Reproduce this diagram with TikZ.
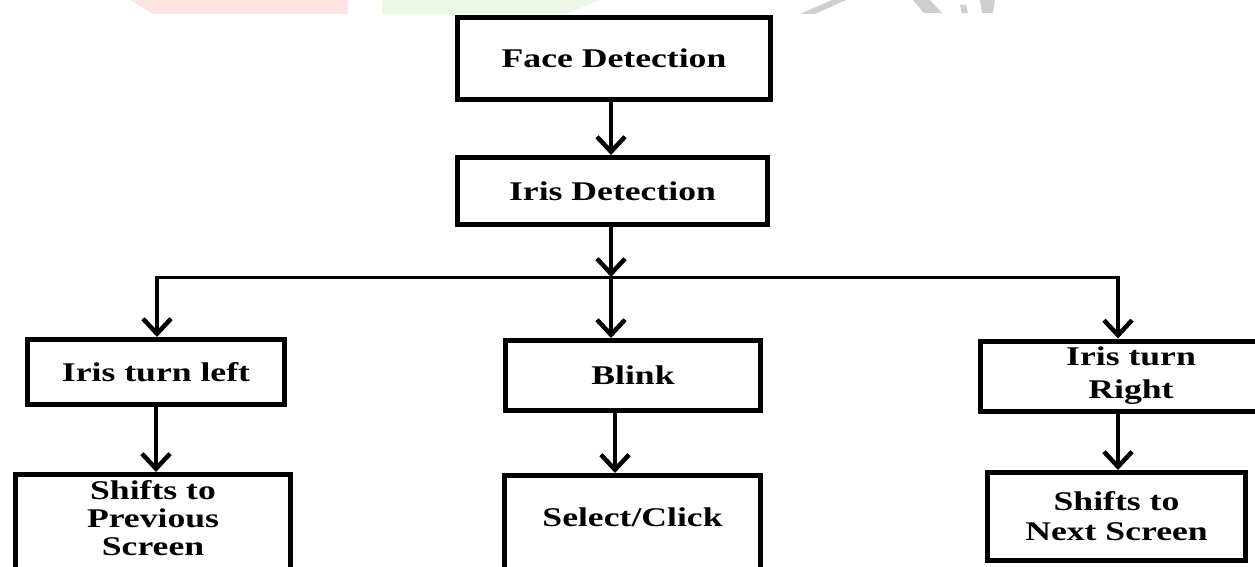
\documentclass[tikz,border=0pt]{standalone}
\usepackage{fontspec}
\setmainfont{Liberation Serif}
\usepackage{graphicx}
\usetikzlibrary{arrows.meta}
\definecolor{pinkwm}{RGB}{255,226,226}
\definecolor{greenwm}{RGB}{236,248,228}
\definecolor{graywm}{RGB}{206,206,206}
\newcommand\wtx[1]{\scalebox{1.32}[1]{#1}}
\tikzset{
  box/.style={draw, line width=5pt, rectangle, inner sep=0pt},
  lbl/.style={font=\fontsize{27}{29}\selectfont\bfseries, align=center},
  conn/.style={line width=4.5pt, -{Straight Barb[length=15pt,width=28pt]}},
  bus/.style={line width=3pt}
}
\begin{document}
\begin{tikzpicture}[x=1pt,y=-1pt]
\useasboundingbox (0,0) rectangle (1255,567);
\clip (0,0) rectangle (1255,567);
% faint watermark fragments
\fill[pinkwm] (130,0) -- (348,0) -- (348,14) -- (153,14) -- cycle;
\fill[greenwm] (382,0) -- (600,0) -- (565,14) -- (382,14) -- cycle;
\fill[graywm] (800,14) -- (815,14) -- (846,0) -- (832,0) -- cycle;
\fill[graywm] (913,0) -- (930,0) -- (942,13) -- (924,13) -- cycle;
\fill[graywm] (960,5) -- (966,5) -- (968,13) -- (962,13) -- cycle;
\fill[graywm] (980,0) -- (995,0) -- (993,13) -- (982,13) -- cycle;

% boxes
\node[box, lbl, minimum width=313pt, minimum height=82pt] (face) at (614,58.5) {\wtx{Face Detection}};
\node[box, lbl, minimum width=310pt, minimum height=67pt] (iris) at (612.5,191) {\wtx{Iris Detection}};
\node[box, lbl, minimum width=257pt, minimum height=65pt] (left) at (156,372) {\wtx{Iris turn left}};
\node[box, lbl, minimum width=255pt, minimum height=70pt] (blink) at (633,375.5) {\wtx{Blink}};
\node[box, lbl, font=\fontsize{27}{33}\selectfont\bfseries, minimum width=301pt, minimum height=70pt] (right) at (1131,376) {\wtx{Iris turn}\\\wtx{Right}};
\node[box, minimum width=275pt, minimum height=145pt] (prev) at (153,547) {};
\node[lbl, font=\fontsize{27}{28}\selectfont\bfseries] (prevtxt) at (153,518) {\wtx{Shifts to}\\\wtx{Previous}\\\wtx{Screen}};
\node[box, minimum width=256pt, minimum height=144.5pt] (sel) at (632.5,547.75) {};
\node[lbl] (seltxt) at (632.5,517) {\wtx{Select/Click}};
\node[box, lbl, font=\fontsize{27}{30}\selectfont\bfseries, minimum width=258pt, minimum height=88pt] (nextb) at (1116.5,516.5) {\wtx{Shifts to}\\\wtx{Next Screen}};

% junction points
\coordinate (jl) at (157,277);
\coordinate (jm) at (611,277);
\coordinate (jr) at (1118,277);
\coordinate (bm) at (615,420);

% connectors
\draw[conn] (face.south -| jm) -- (iris.north -| jm);
\draw[conn] (iris.south -| jm) -- (jm);
\draw[bus] (jl) -- (jr);
\draw[conn] ([yshift=1.5pt]jl) -- (left.north -| jl);
\draw[conn] (jm) -- (blink.north -| jm);
\draw[conn] ([yshift=1.5pt]jr) -- (right.north -| jr);
\draw[conn] (left.south) -- (left.south |- prev.north);
\draw[conn] (blink.south -| bm) -- (sel.north -| bm);
\draw[conn] (right.south -| jr) -- (nextb.north -| jr);
\end{tikzpicture}
\end{document}
